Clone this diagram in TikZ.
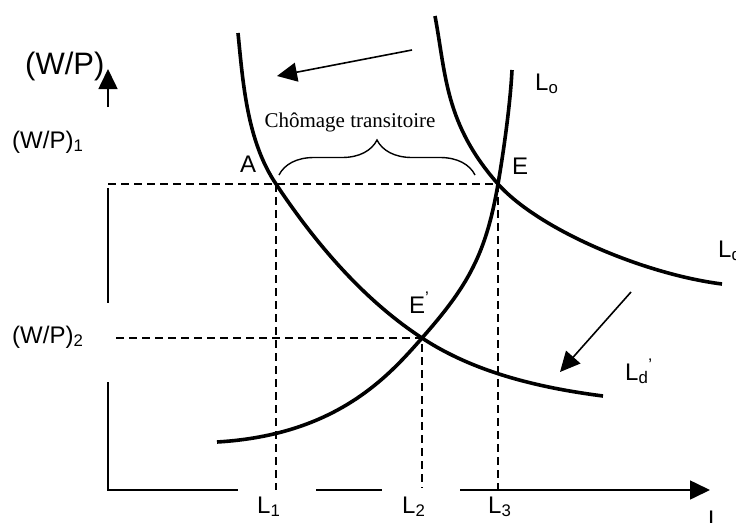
\documentclass[tikz,border=0pt]{standalone}
\usepackage{fontspec}
\setmainfont{Liberation Sans}
\newfontfamily\notefont{Liberation Serif}
\usetikzlibrary{arrows.meta, decorations.pathreplacing}

\newcommand{\lblsize}{\fontsize{24}{28}\selectfont}
\newcommand{\wpsize}{\fontsize{24}{28}\selectfont}

\begin{document}
\begin{tikzpicture}[
    x=1pt, y=-1pt,
    >={Triangle[length=20pt, width=19pt]},
    curveline/.style={
        line width=3.6pt
    },
    axisline/.style={
        line width=1.6pt
    },
    guide/.style={
        line width=1.3pt,
        dash pattern=on 8pt off 5pt
    },
    shiftarrow/.style={
        ->,
        line width=1.6pt
    },
    lbl/.style={
        inner sep=0pt,
        anchor=base west,
        font=\lblsize
    },
    wplbl/.style={
        inner sep=0pt,
        anchor=base west,
        font=\wpsize
    }
]
\useasboundingbox (0,0) rectangle (736,522);

% ================= KEY POINTS =================
\coordinate (A) at (276,184);
\coordinate (E) at (498,184);
\coordinate (Ep) at (422,338);

% ================= AXES =================
\coordinate (ytail) at (108,107);
\coordinate (ytip) at (108,69);
\coordinate (ytop) at (108,188);
\coordinate (ymid) at (108,303);
\coordinate (ylow) at (108,382);
\coordinate (O) at (108,490);
\coordinate (xa) at (238,490);
\coordinate (xb) at (316,490);
\coordinate (xc) at (382,490);
\coordinate (xd) at (460,490);
\coordinate (xtip) at (710,490);

\draw[axisline, ->] (ytail) -- (ytip);
\draw[axisline] (ytop) -- (ymid);
\draw[axisline] (ylow) -- (O) -- (xa);
\draw[axisline] (xb) -- (xc);
\draw[axisline, ->] (xd) -- (xtip);

% ================= GUIDE LINES =================
\coordinate (wp1) at (108,184);
\coordinate (wp2) at (116,338);
\coordinate (l1) at (276,490);
\coordinate (l2) at (422,488);
\coordinate (l3) at (498,490);

\draw[guide] (wp1) -- (E);
\draw[guide] (A) -- (l1);
\draw[guide] (E) -- (l3);
\draw[guide] (wp2) -- (Ep) -- (l2);

% ================= CURVES =================
\coordinate (ldtop) at (435,16);
\coordinate (ldend) at (722,284);
\coordinate (ldptop) at (238,33);
\coordinate (ldpend) at (603,396);
\coordinate (lostart) at (217,442);
\coordinate (lotop) at (512,70);

% old demand
\draw[curveline] (ldtop) .. controls (446,75) and (445,124) .. (E)
    .. controls (538,229) and (643,274) .. (ldend);
% new demand
\draw[curveline] (ldptop) .. controls (243,83) and (247,141) .. (A)
    .. controls (314.5,242) and (363,299.5) .. (Ep)
    .. controls (475,373) and (541,388) .. (ldpend);
% supply
\draw[curveline] (lostart) .. controls (337,435) and (389,375.5) .. (Ep)
    .. controls (468,286) and (486,254) .. (E)
    .. controls (501.5,164) and (510,110) .. (lotop);

% ================= SHIFTS =================
\coordinate (s1a) at (412,50);
\coordinate (s1b) at (277,76);
\coordinate (s2a) at (631,292);
\coordinate (s2b) at (560,372);

\draw[shiftarrow] (s1a) -- (s1b);
\draw[shiftarrow] (s2a) -- (s2b);

% ================= BRACE =================
\coordinate (bl) at (279,175);
\coordinate (br) at (475,175);
\draw[line width=1.4pt, decorate, decoration={brace, amplitude=35pt}] (bl) -- (br);
\node[anchor=base, inner sep=0pt, font=\notefont\fontsize{21}{24}\selectfont] (chomage) at (350,127) {Chômage transitoire};

% ================= LABELS =================
\node[lbl, font=\fontsize{31}{34}\selectfont] (wp) at (25,74) {(W/P)};
\node[wplbl] (wp1lbl) at (12,148) {(W/P)\textsubscript{1}};
\node[wplbl] (wp2lbl) at (12,343) {(W/P)\textsubscript{2}};
\node[lbl] (Albl) at (240,172) {A};
\node[lbl] (Elbl) at (512,174) {E};
\node[lbl] (Eplbl) at (409,313) {E\textsuperscript{'}};
\node[lbl] (Lolbl) at (535,90) {L\textsubscript{o}};
\node[lbl] (Ldlbl) at (718,257) {L\textsubscript{d}};
\node[lbl] (Ldplbl) at (625,380) {L\textsubscript{d}\textsuperscript{'}};
\node[lbl] (L1lbl) at (257,513) {L\textsubscript{1}};
\node[lbl] (L2lbl) at (402,513) {L\textsubscript{2}};
\node[lbl] (L3lbl) at (488,513) {L\textsubscript{3}};
\node[lbl] (Llbl) at (708,527) {L};

\end{tikzpicture}
\end{document}
